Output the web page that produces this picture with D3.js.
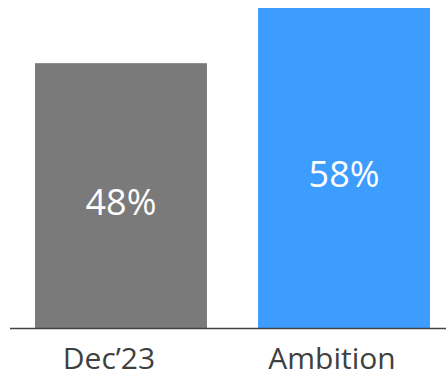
<!DOCTYPE html>
<html>
<head>
<meta charset="utf-8">
<script src="https://cdn.jsdelivr.net/npm/d3@7"></script>
<style>
  html, body { margin: 0; padding: 0; background: #fff; }
  svg { display: block; }
</style>
</head>
<body>
<svg id="chart" width="446" height="378"></svg>
<script>
// Share of target reached, now vs. ambition
const categories = ["Dec\u201923", "Ambition"];
const values = [48, 58];
const valueLabels = ["48%", "58%"];
const barColors = ["#7a7a7a", "#3d9dff"];

const svg = d3.select("#chart");
const fontFamily = "'Open Sans', sans-serif";

const x = d3.scaleBand()
  .domain(categories)
  .range([35, 430])
  .paddingInner(0.229)
  .paddingOuter(0);

const y = d3.scaleLinear()
  .domain([0, 58])
  .range([328, 8]);

// Bars
svg.selectAll("rect.bar")
  .data(categories)
  .join("rect")
  .attr("class", "bar")
  .attr("x", d => x(d))
  .attr("width", x.bandwidth())
  .attr("y", (d, i) => y(values[i]))
  .attr("height", (d, i) => y(0) - y(values[i]))
  .attr("fill", (d, i) => barColors[i]);

// Value labels, centred in each bar
svg.selectAll("text.value")
  .data(categories)
  .join("text")
  .attr("class", "value")
  .attr("x", d => x(d) + x.bandwidth() / 2)
  .attr("y", (d, i) => (y(values[i]) + y(0)) / 2 + 19)
  .attr("text-anchor", "middle")
  .attr("fill", "#ffffff")
  .style("font-family", fontFamily)
  .style("font-size", "36px")
  .text((d, i) => valueLabels[i]);

// Baseline
svg.append("line")
  .attr("x1", 10)
  .attr("x2", 446)
  .attr("y1", y(0) + 0.5)
  .attr("y2", y(0) + 0.5)
  .attr("stroke", "#444")
  .attr("stroke-width", 1.5);

// Category axis
const axis = d3.axisBottom(x).tickSize(0).tickPadding(0);
const gAxis = svg.append("g")
  .attr("transform", `translate(-12, ${y(0)})`)
  .call(axis);
gAxis.select(".domain").remove();
gAxis.selectAll("text")
  .attr("dy", null)
  .attr("y", 41)
  .attr("fill", "#404040")
  .style("font-family", fontFamily)
  .style("font-size", "30px");
</script>
</body>
</html>
